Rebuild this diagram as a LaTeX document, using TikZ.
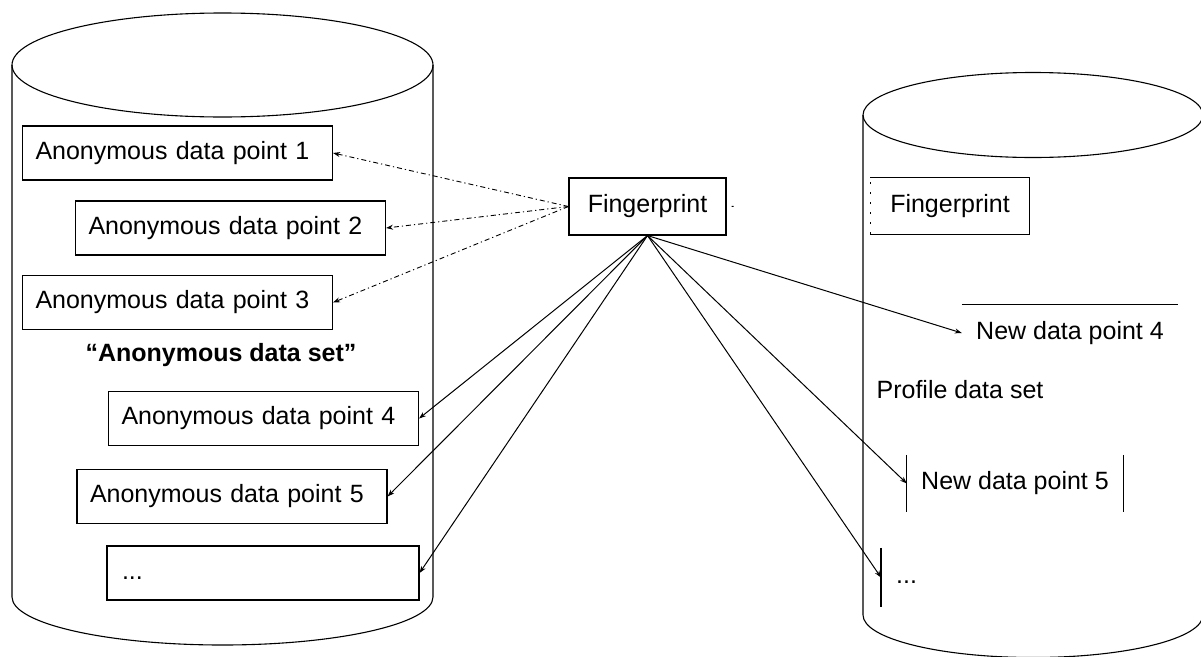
\documentclass[tikz,border=0pt]{standalone}
\usepackage{fontspec}
\setmainfont{Liberation Sans}
\usetikzlibrary{arrows.meta}
\newcommand\fs{\fontsize{25}{30}\selectfont}
\begin{document}
\begin{tikzpicture}[x=1pt,y=-1pt,
  line/.style={line width=1.1pt},
  dbox/.style={draw, line width=1.1pt, minimum height=54pt, text width=284pt, inner xsep=13pt, inner ysep=0pt, align=left, font=\fs},
  txt/.style={font=\fs},
  tip/.style={-{Stealth[length=7pt,width=5pt]}},
  conn/.style={line width=1pt},
  dd/.style={line width=0.9pt, dash pattern=on 5pt off 3pt on 1.2pt off 3pt},
]
\useasboundingbox[fill=white] (0,0) rectangle (1201,656);

% left cylinder
\draw[line] (12,65) -- (12,597) arc[start angle=180, end angle=0, x radius=210.5, y radius=48] -- (433,65);
\draw[line] (222.5,65) ellipse[x radius=210.5, y radius=52];

% right cylinder
\draw[line] (863,115) -- (863,615) arc[start angle=180, end angle=0, x radius=170, y radius=42.5] -- (1203,115);
\draw[line] (1033,115) ellipse[x radius=170, y radius=42.5];

% left boxes
\node[dbox] (a1) at (177.5,153) {Anonymous data point 1};
\node[dbox] (a2) at (230.5,228) {Anonymous data point 2};
\node[dbox] (a3) at (177.5,302.5) {Anonymous data point 3};
\node[txt, font=\fs\bfseries] (ads) at (221,355) {“Anonymous data set”};
\node[dbox] (a4) at (263.5,418.5) {Anonymous data point 4};
\node[dbox] (a5) at (232,496.5) {Anonymous data point 5};
\node[dbox, inner xsep=15pt, text width=282pt] (a6) at (263,573) {\strut...};

% fingerprint
\node[draw, line, minimum width=157pt, minimum height=57pt, txt] (fp) at (647.5,206.5) {Fingerprint};

% right side
\node[txt, minimum width=159pt, minimum height=56pt] (fp2) at (950,206) {Fingerprint};
\draw[line] (fp2.north west) -- (fp2.north east) -- (fp2.south east) -- (fp2.south west);
\draw[line, dash pattern=on 2pt off 8pt] (fp2.south west) -- (fp2.north west);

\node[txt, minimum width=216pt, minimum height=56pt] (n4) at (1070,333) {New data point 4};
\draw[line] (n4.north west) -- (n4.north east);

\node[txt] (pds) at (960,390) {Profile data set};

\node[txt, minimum width=216pt, minimum height=57pt] (n5) at (1015,483.5) {New data point 5};
\draw[line] (n5.north west) -- (n5.south west);
\draw[line] (n5.north east) -- (n5.south east);

\node[txt, minimum height=59pt, text width=186pt, inner xsep=15pt, align=left, anchor=west] (n6) at (881,577.5) {\strut...};
\draw[line] (n6.north west) -- (n6.south west);

% connectors
\draw[dd, tip] (fp.west) -- (a1.east);
\draw[dd, tip] (fp.west) -- (a2.east);
\draw[dd, tip] (fp.west) -- (a3.east);
\draw[conn, dash pattern=on 0pt off 5pt on 2pt off 300pt] (fp.east) -- (fp2.west);

\draw[conn, tip] (fp.south) -- (a4.east);
\draw[conn, tip] (fp.south) -- (a5.east);
\draw[conn, tip] (fp.south) -- (a6.east);
\draw[conn, tip] (fp.south) -- (n4.west);
\draw[conn, tip] (fp.south) -- (n5.west);
\draw[conn, tip] (fp.south) -- (n6.west);
\end{tikzpicture}
\end{document}
